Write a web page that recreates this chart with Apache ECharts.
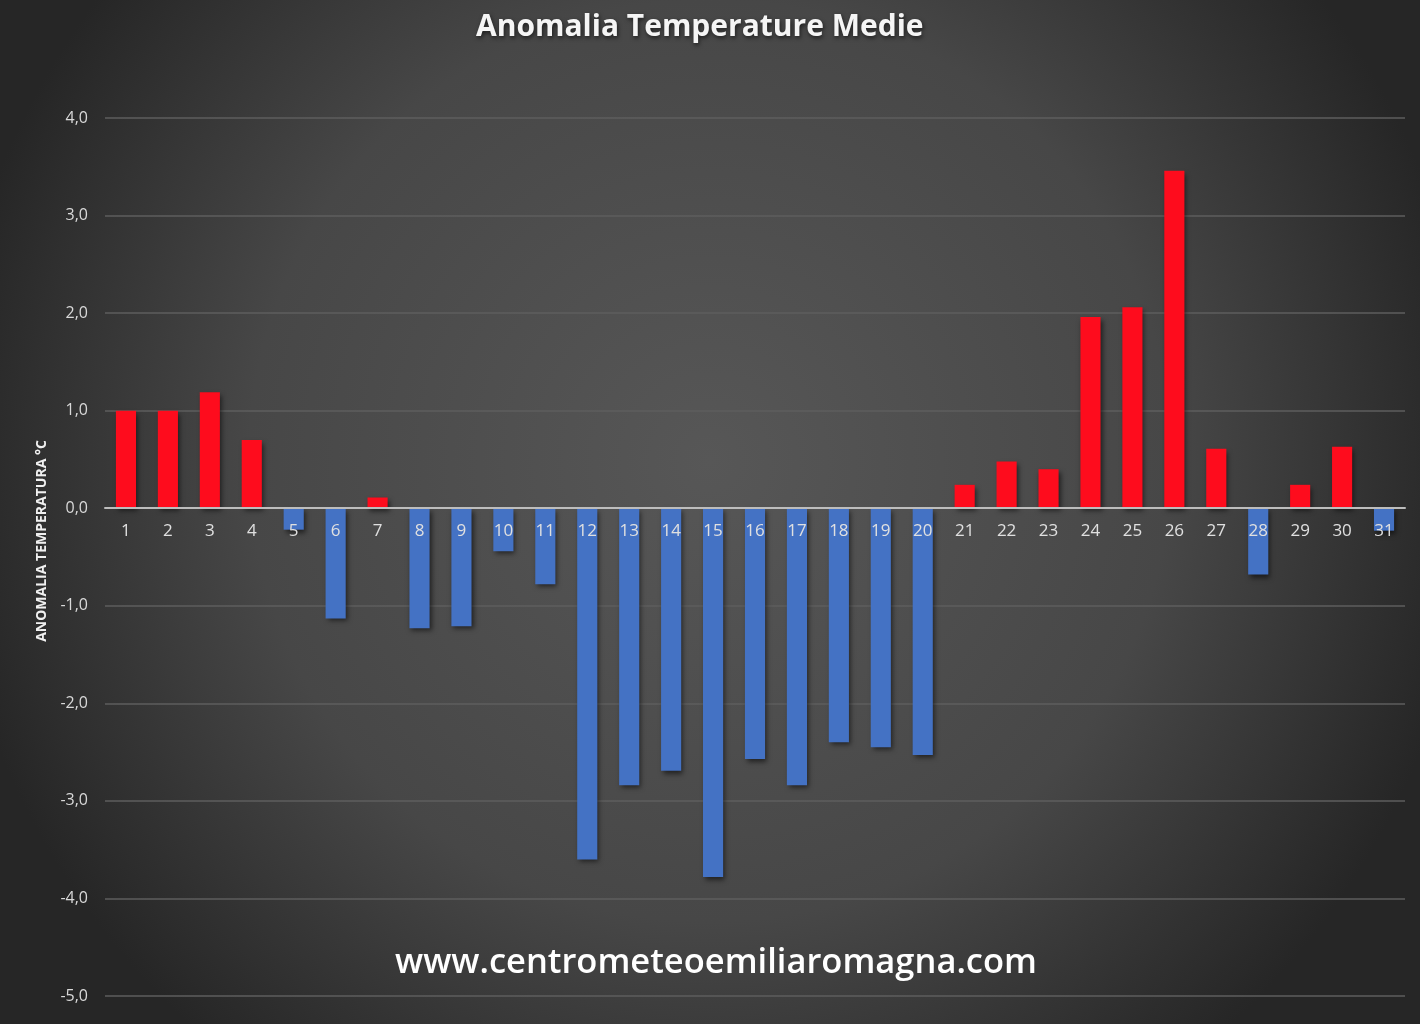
<!DOCTYPE html>
<html>
<head>
<meta charset="utf-8">
<script src="https://cdn.jsdelivr.net/npm/echarts@6/dist/echarts.min.js"></script>
<style>
html,body{margin:0;padding:0;background:#333;}
#chart{width:1420px;height:1024px;}
</style>
</head>
<body>
<div id="chart"></div>
<script>
const days = ['1','2','3','4','5','6','7','8','9','10','11','12','13','14','15','16','17','18','19','20','21','22','23','24','25','26','27','28','29','30','31'];
const anomalies = [1.0, 1.0, 1.19, 0.70, -0.22, -1.13, 0.11, -1.23, -1.21, -0.44, -0.78, -3.60, -2.84, -2.69, -3.78, -2.57, -2.84, -2.40, -2.45, -2.53, 0.24, 0.48, 0.40, 1.96, 2.06, 3.46, 0.61, -0.68, 0.24, 0.63, -0.23];
const titleText = 'Anomalia Temperature Medie';
const yAxisName = 'ANOMALIA TEMPERATURA °C';
const watermark = 'www.centrometeoemiliaromagna.com';
const yMin = -5, yMax = 4, yStep = 1;

const gridTop = 118, gridBottom = 28, chartH = 1024;
const plotH = chartH - gridTop - gridBottom;
const zeroFromBottom = plotH * (0 - yMin) / (yMax - yMin);

const chart = echarts.init(document.getElementById('chart'), null, {renderer:'canvas'});
chart.setOption({
  backgroundColor: {
    type: 'radial', x: 0.5, y: 0.45, r: 0.75,
    colorStops: [{offset: 0, color: '#575757'}, {offset: 0.6, color: '#474747'}, {offset: 1, color: '#262626'}]
  },
  animation: false,
  title: {
    text: titleText, left: 471, top: 7,
    textStyle: {color: '#f5f5f5', fontSize: 30, fontWeight: 'bold', fontFamily: 'Open Sans',
      textShadowColor: 'rgba(0,0,0,0.6)', textShadowBlur: 4, textShadowOffsetX: 1, textShadowOffsetY: 2}
  },
  grid: {left: 105, right: 15, top: gridTop, bottom: gridBottom, containLabel: false},
  xAxis: {
    type: 'category', data: days, z: 5,
    offset: -zeroFromBottom,
    axisLine: {onZero: false, lineStyle: {color: '#bdbdbd', width: 2}},
    axisTick: {show: false},
    axisLabel: {color: '#e0e0e0', fontSize: 17, fontFamily: 'Open Sans', margin: 14}
  },
  yAxis: {
    type: 'value', min: yMin, max: yMax, interval: yStep,
    name: yAxisName, nameLocation: 'middle', nameGap: 45,
    nameTextStyle: {color: '#f0f0f0', fontSize: 14, fontWeight: 'bold', fontFamily: 'Open Sans', padding: [0, 0, 0, 32]},
    axisLine: {show: false}, axisTick: {show: false},
    axisLabel: {color: '#d9d9d9', fontSize: 16, fontFamily: 'Open Sans', margin: 17,
      formatter: v => v.toFixed(1).replace('.', ',')},
    splitLine: {lineStyle: {color: '#5e5e5e', width: 1.5}}
  },
  series: [{
    type: 'bar', data: anomalies, barWidth: '48%',
    itemStyle: {
      color: p => p.value >= 0 ? '#fe0c1d' : '#4472c4',
      shadowColor: 'rgba(0,0,0,0.55)', shadowBlur: 5, shadowOffsetX: 2, shadowOffsetY: 3
    }
  }],
  graphic: [{
    type: 'text', x: 716, y: 963,
    style: {text: watermark, fill: '#ffffff', font: '600 34.5px "Open Sans"', textAlign: 'center', textVerticalAlign: 'middle',
      shadowColor: 'rgba(0,0,0,0.6)', shadowBlur: 4, shadowOffsetX: 1, shadowOffsetY: 2}
  }]
});
</script>
</body>
</html>
